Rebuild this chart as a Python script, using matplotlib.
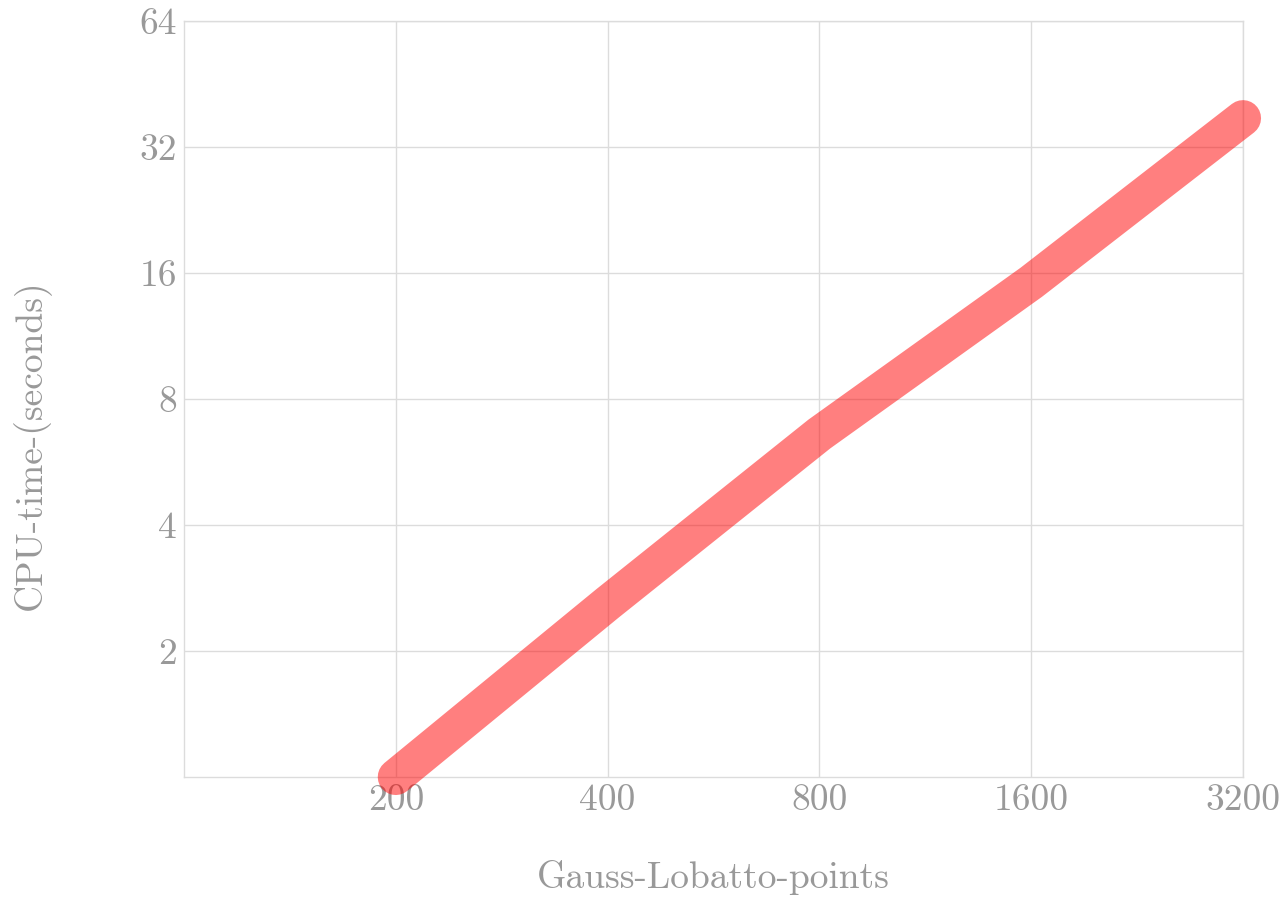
import matplotlib
matplotlib.use("Agg")
import matplotlib.pyplot as plt
from matplotlib.ticker import FixedLocator, NullLocator

plt.rcParams["font.family"] = "serif"
plt.rcParams["font.serif"] = ["cmr10", "DejaVu Serif"]
plt.rcParams["axes.formatter.use_mathtext"] = True

# Gauss-Lobatto points vs CPU time
points = [200, 400, 800, 1600, 3200]
cpu_seconds = [1.0, 2.6, 6.6, 15.2, 37.5]

x_ticks = [200, 400, 800, 1600, 3200]
x_tick_labels = ["200", "400", "800", "1600", "3200"]
y_ticks = [2, 4, 8, 16, 32, 64]
y_tick_labels = ["2", "4", "8", "16", "32", "64"]

grey_text = "#999999"
grid_col = "#dcdcdc"

fig = plt.figure(figsize=(12.83, 8.98), dpi=100)
ax = fig.add_axes([184 / 1283, 1 - 777 / 898, (1243 - 184) / 1283, (777 - 21) / 898])

ax.set_xscale("log", base=2)
ax.set_yscale("log", base=2)
ax.set_xlim(100, 3200)
ax.set_ylim(1, 64)

ax.plot(points, cpu_seconds, color="#ff0000", alpha=0.5, linewidth=26,
        solid_capstyle="round", solid_joinstyle="round", clip_on=False, zorder=3)

ax.xaxis.set_major_locator(FixedLocator(x_ticks))
ax.yaxis.set_major_locator(FixedLocator(y_ticks))
ax.xaxis.set_minor_locator(NullLocator())
ax.yaxis.set_minor_locator(NullLocator())
ax.set_xticklabels(x_tick_labels)
ax.set_yticklabels(y_tick_labels)

ax.grid(True, color=grid_col, linewidth=1)
ax.set_axisbelow(True)
for s in ax.spines.values():
    s.set_color(grid_col)
    s.set_linewidth(1)

ax.tick_params(length=0, labelsize=27, labelcolor=grey_text, pad=5)

ax.set_xlabel("Gauss-Lobatto-points", fontsize=27, color=grey_text, labelpad=31)
ax.set_ylabel("CPU-time-(seconds)", fontsize=27, color=grey_text, labelpad=64)
ax.yaxis.label.set_y(0.44)

fig.savefig("out.png", dpi=100)
